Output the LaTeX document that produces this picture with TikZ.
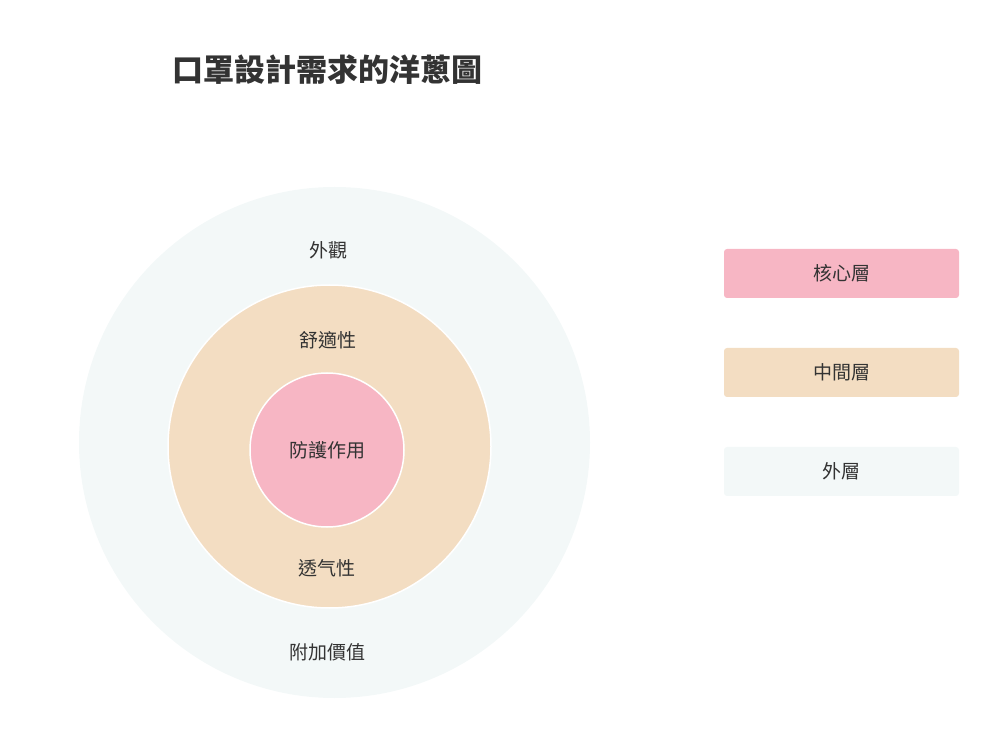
\documentclass[tikz,border=0pt]{standalone}
\usepackage{fontspec}
\setmainfont{Noto Sans CJK TC}
\definecolor{ccore}{RGB}{247,182,196}
\definecolor{cmid}{RGB}{243,221,194}
\definecolor{couter}{RGB}{243,248,248}
\definecolor{ctext}{RGB}{51,51,51}
\tikzset{onion/.style={x=1pt,y=-1pt,text=ctext,font=\fontsize{19}{23}\selectfont},
  layer/.style={circle,inner sep=0pt},
  legendbox/.style={rectangle,rounded corners=3pt,minimum width=235pt,minimum height=49pt,inner sep=0pt}}

\begin{document}
\begin{tikzpicture}[onion]
    \useasboundingbox (0,0) rectangle (997,735);
    \node[layer,fill=couter,minimum size=511pt] (outer) at (334.5,442.5) {}; % outer layer
    \node[layer,fill=cmid,draw=white,line width=1.5pt,minimum size=323pt] (mid) at (329.5,446.5) {}; % middle layer
    \node[layer,fill=ccore,draw=white,line width=1.5pt,minimum size=154pt] (core) at (327,450) {防護作用}; % core
    \node (look) at (328,250) {外觀};
    \node (comfort) at (328,340) {舒適性};
    \node (breath) at (327,568) {透气性};
    \node (extra) at (327,652) {附加價值};
    \node[font=\fontsize{31}{36}\selectfont\bfseries] (title) at (327,70) {口罩設計需求的洋蔥圖};
    % legend
    \node[legendbox,fill=ccore] (lcore) at (841.5,273.5) {核心層};
    \node[legendbox,fill=cmid] (lmid) at (841.5,372.5) {中間層};
    \node[legendbox,fill=couter] (louter) at (841.5,471.5) {外層};
\end{tikzpicture}
\end{document}
